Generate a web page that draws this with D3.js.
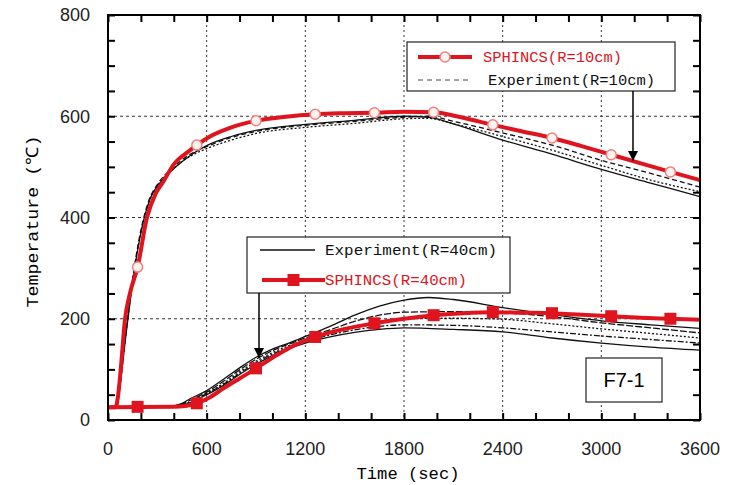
<!DOCTYPE html>
<html>
<head>
<meta charset="utf-8">
<script src="https://cdn.jsdelivr.net/npm/d3@7"></script>
<style>
  body { margin: 0; background: #fff; }
  svg { display: block; }
</style>
</head>
<body>
<div id="chart"></div>
<script>
// tick values
var timeTicks = [0, 600, 1200, 1800, 2400, 3000, 3600]
var tempTicks = [0, 200, 400, 600, 800]

// SPHINCS R=10cm (red, circle markers)
var sphincs10 = [[0, 25], [45, 25], [60, 45], [80, 110], [103, 198], [134, 251], [180, 302], [237, 400],
  [290, 447], [335, 470], [400, 505], [500, 533], [540, 543], [620, 560], [742, 577], [900, 591],
  [1080, 599], [1260, 604], [1440, 606], [1620, 607], [1800, 609], [1980, 608], [2160, 597],
  [2340, 583], [2520, 570], [2700, 557], [2880, 541], [3060, 524], [3240, 507], [3420, 490], [3600, 474]]
var sphincs10Marks = [[180, 302], [540, 543], [900, 591], [1260, 604], [1620, 607], [1980, 608],
  [2340, 583], [2700, 557], [3060, 524], [3420, 490]]

// Experiment R=10cm (black, several thermocouples)
var exp10a = [[0, 25], [50, 25], [65, 50], [100, 150], [150, 280], [200, 375], [250, 435], [300, 465],
  [400, 500], [500, 525], [600, 540], [750, 558], [900, 570], [1200, 582], [1500, 590], [1800, 598],
  [1950, 600], [2100, 590], [2400, 567], [2700, 543], [3000, 513], [3300, 487], [3600, 460]]
var exp10b = [[0, 25], [50, 25], [65, 48], [100, 145], [150, 275], [200, 370], [250, 430], [300, 462],
  [400, 497], [500, 521], [600, 536], [750, 553], [900, 566], [1200, 578], [1500, 586], [1800, 595],
  [1950, 596], [2100, 585], [2400, 560], [2700, 533], [3000, 503], [3300, 474], [3600, 451]]
var exp10c = [[0, 25], [55, 25], [70, 60], [110, 170], [160, 295], [210, 385], [260, 440], [320, 470],
  [420, 502], [520, 527], [600, 542], [750, 560], [900, 572], [1200, 584], [1500, 592], [1800, 600],
  [1950, 598], [2100, 585], [2400, 553], [2700, 525], [3000, 495], [3300, 468], [3600, 441]]

// SPHINCS R=40cm (red, square markers)
var sphincs40 = [[0, 25], [400, 26], [540, 33], [620, 45], [700, 62], [800, 82], [900, 102], [1000, 123],
  [1100, 142], [1260, 164], [1440, 180], [1620, 191], [1800, 200], [1980, 207], [2160, 211],
  [2340, 213], [2520, 212], [2700, 211], [2880, 208], [3060, 205], [3240, 202], [3420, 200], [3600, 198]]
var sphincs40Marks = [[180, 26], [540, 33], [900, 102], [1260, 164], [1620, 191], [1980, 207],
  [2340, 213], [2700, 211], [3060, 205], [3420, 200]]

// Experiment R=40cm (black)
var exp40a = [[0, 25], [380, 27], [450, 33], [500, 42], [600, 58], [700, 80], [800, 103], [900, 124],
  [1000, 140], [1100, 152], [1200, 165], [1350, 185], [1500, 207], [1650, 225], [1800, 237],
  [1950, 242], [2100, 238], [2400, 222], [2700, 208], [3000, 196], [3300, 188], [3600, 181]]
var exp40b = [[0, 25], [380, 27], [460, 33], [520, 42], [600, 55], [700, 76], [800, 99], [900, 120],
  [1000, 137], [1100, 150], [1200, 162], [1350, 178], [1500, 195], [1650, 207], [1800, 213],
  [2100, 214], [2400, 212], [2700, 204], [3000, 192], [3300, 182], [3600, 172]]
var exp40c = [[0, 25], [400, 27], [480, 33], [540, 42], [600, 52], [700, 72], [800, 95], [900, 116],
  [1000, 133], [1100, 147], [1200, 158], [1350, 172], [1500, 185], [1650, 195], [1800, 200],
  [2100, 201], [2400, 199], [2700, 190], [3000, 180], [3300, 171], [3600, 162]]
var exp40d = [[0, 25], [400, 27], [480, 33], [540, 42], [600, 52], [700, 70], [800, 92], [900, 113],
  [1000, 130], [1100, 144], [1200, 155], [1350, 168], [1500, 178], [1650, 185], [1800, 188],
  [2100, 187], [2400, 182], [2700, 174], [3000, 166], [3300, 159], [3600, 152]]
var exp40e = [[0, 25], [400, 27], [490, 33], [550, 42], [600, 50], [700, 68], [800, 90], [900, 110],
  [1000, 127], [1100, 141], [1200, 152], [1350, 164], [1500, 173], [1650, 179], [1800, 182],
  [2100, 179], [2400, 174], [2700, 162], [3000, 152], [3300, 144], [3600, 138]]

var margin = { top: 15, left: 108, right: 33, bottom: 65 }
var width = 733 - margin.left - margin.right
var height = 485 - margin.top - margin.bottom

var red = '#e0141e'
var labelFont = 'Liberation Sans, Arial, sans-serif'
var textFont = 'Liberation Mono, DejaVu Sans Mono, monospace'

var svg = d3
  .select('#chart')
  .append('svg')
  .attr('width', 733)
  .attr('height', 485)
  .append('g')
  .attr('transform', 'translate(' + margin.left + ',' + margin.top + ')')

var xScale = d3.scaleLinear().domain([0, 3600]).range([0, width])
var yScale = d3.scaleLinear().domain([0, 800]).range([height, 0])

var defs = d3.select('svg').append('defs')
defs
  .append('clipPath')
  .attr('id', 'clip')
  .append('rect')
  .attr('width', width)
  .attr('height', height)
defs
  .append('marker')
  .attr('id', 'arrow')
  .attr('viewBox', '0 0 10 10')
  .attr('refX', 10)
  .attr('refY', 5)
  .attr('markerWidth', 10)
  .attr('markerHeight', 10)
  .attr('markerUnits', 'userSpaceOnUse')
  .attr('orient', 'auto')
  .append('path')
  .attr('d', 'M0,0 L10,5 L0,10 Z')
  .attr('fill', 'black')

// grid
svg
  .selectAll('.vgrid')
  .data(timeTicks.slice(1, -1))
  .enter()
  .append('line')
  .attr('class', 'vgrid')
  .attr('x1', d => xScale(d))
  .attr('x2', d => xScale(d))
  .attr('y1', 0)
  .attr('y2', height)
  .attr('stroke', '#333')
  .attr('stroke-width', 1)
  .attr('stroke-dasharray', '2,3')

svg
  .selectAll('.hgrid')
  .data(tempTicks.slice(1, -1))
  .enter()
  .append('line')
  .attr('class', 'hgrid')
  .attr('x1', 0)
  .attr('x2', width)
  .attr('y1', d => yScale(d))
  .attr('y2', d => yScale(d))
  .attr('stroke', '#333')
  .attr('stroke-width', 1)
  .attr('stroke-dasharray', '3,3')

// ticks (inward, all four sides)
var xMinor = d3.range(0, 3601, 200)
var yMinor = d3.range(0, 801, 50)

svg.append('g')
  .attr('transform', 'translate(0,' + height + ')')
  .call(d3.axisBottom(xScale).tickValues(xMinor).tickSize(-7).tickFormat(''))
svg.append('g')
  .call(d3.axisTop(xScale).tickValues(xMinor).tickSize(-7).tickFormat(''))
svg.append('g')
  .call(d3.axisLeft(yScale).tickValues(yMinor).tickSize(-7).tickFormat(''))
svg.append('g')
  .attr('transform', 'translate(' + width + ',0)')
  .call(d3.axisRight(yScale).tickValues(yMinor).tickSize(-7).tickFormat(''))
svg.selectAll('.domain').remove()
svg.selectAll('.tick line').attr('stroke', 'black').attr('stroke-width', 2)

// lines
var line = d3
  .line()
  .x(d => xScale(d[0]))
  .y(d => yScale(d[1]))
  .curve(d3.curveMonotoneX)

var plot = svg.append('g').attr('clip-path', 'url(#clip)')

var expLines = [
  { data: exp10a, dash: '5,3' },
  { data: exp10b, dash: '2,2' },
  { data: exp10c, dash: null },
  { data: exp40a, dash: null },
  { data: exp40b, dash: '7,2' },
  { data: exp40c, dash: '2,2' },
  { data: exp40d, dash: '6,2,2,2' },
  { data: exp40e, dash: null }
]

plot
  .selectAll('.exp')
  .data(expLines)
  .enter()
  .append('path')
  .attr('class', 'exp')
  .attr('d', d => line(d.data))
  .attr('fill', 'none')
  .attr('stroke', '#111')
  .attr('stroke-width', 1.3)
  .attr('stroke-dasharray', d => d.dash)

plot
  .append('path')
  .datum(sphincs10)
  .attr('d', line)
  .attr('fill', 'none')
  .attr('stroke', red)
  .attr('stroke-width', 4)

plot
  .append('path')
  .datum(sphincs40)
  .attr('d', line)
  .attr('fill', 'none')
  .attr('stroke', red)
  .attr('stroke-width', 4)

plot
  .selectAll('.mark10')
  .data(sphincs10Marks)
  .enter()
  .append('circle')
  .attr('class', 'mark10')
  .attr('cx', d => xScale(d[0]))
  .attr('cy', d => yScale(d[1]))
  .attr('r', 5)
  .attr('fill', '#fff3f0')
  .attr('stroke', '#f08080')
  .attr('stroke-width', 1.5)

plot
  .selectAll('.mark40')
  .data(sphincs40Marks)
  .enter()
  .append('rect')
  .attr('class', 'mark40')
  .attr('x', d => xScale(d[0]) - 6)
  .attr('y', d => yScale(d[1]) - 6)
  .attr('width', 12)
  .attr('height', 12)
  .attr('fill', red)

// frame
svg
  .append('rect')
  .attr('width', width)
  .attr('height', height)
  .attr('fill', 'none')
  .attr('stroke', 'black')
  .attr('stroke-width', 2)

// tick labels
svg
  .selectAll('.xlabel')
  .data(timeTicks)
  .enter()
  .append('text')
  .attr('class', 'xlabel')
  .attr('x', d => xScale(d))
  .attr('y', height + 35)
  .attr('text-anchor', 'middle')
  .attr('font-family', labelFont)
  .attr('font-size', 18)
  .attr('fill', '#222')
  .text(d => d)

svg
  .selectAll('.ylabel')
  .data(tempTicks)
  .enter()
  .append('text')
  .attr('class', 'ylabel')
  .attr('x', -18)
  .attr('y', d => yScale(d))
  .attr('dy', '0.35em')
  .attr('text-anchor', 'end')
  .attr('font-family', labelFont)
  .attr('font-size', 18)
  .attr('fill', '#222')
  .text(d => d)

// axis titles
svg
  .append('text')
  .attr('x', xScale(1800) + 4)
  .attr('y', height + 59)
  .attr('text-anchor', 'middle')
  .attr('font-family', textFont)
  .attr('font-size', 17)
  .attr('textLength', 103)
  .attr('lengthAdjust', 'spacingAndGlyphs')
  .text('Time (sec)')

svg
  .append('text')
  .attr('transform', 'translate(-70,' + (yScale(400) + 4) + ') rotate(-90)')
  .attr('text-anchor', 'middle')
  .attr('font-family', textFont)
  .attr('font-size', 17)
  .attr('textLength', 172)
  .attr('lengthAdjust', 'spacingAndGlyphs')
  .text('Temperature (℃)')

// legends
function legend(x, y, w, h, rows) {
  var g = svg.append('g').attr('transform', 'translate(' + x + ',' + y + ')')
  g.append('rect')
    .attr('width', w)
    .attr('height', h)
    .attr('fill', 'white')
    .attr('stroke', '#222')
    .attr('stroke-width', 1.2)
  rows.forEach(function(r) {
    g.append('line')
      .attr('x1', r.x1)
      .attr('x2', r.x2)
      .attr('y1', r.y)
      .attr('y2', r.y)
      .attr('stroke', r.color)
      .attr('stroke-width', r.sw)
      .attr('stroke-dasharray', r.dash)
    if (r.marker === 'circle') {
      g.append('circle')
        .attr('cx', (r.x1 + r.x2) / 2)
        .attr('cy', r.y)
        .attr('r', 5)
        .attr('fill', '#fff3f0')
        .attr('stroke', '#f08080')
        .attr('stroke-width', 1.5)
    }
    if (r.marker === 'square') {
      g.append('rect')
        .attr('x', (r.x1 + r.x2) / 2 - 6)
        .attr('y', r.y - 6)
        .attr('width', 12)
        .attr('height', 12)
        .attr('fill', red)
    }
    g.append('text')
      .attr('x', r.tx)
      .attr('y', r.y)
      .attr('dy', '0.35em')
      .attr('font-family', textFont)
      .attr('font-size', 15)
      .attr('fill', r.tcolor)
      .attr('textLength', r.tw)
      .attr('lengthAdjust', 'spacingAndGlyphs')
      .text(r.label)
  })
}

legend(299, 27, 268, 49, [
  { x1: 11, x2: 65, y: 15, color: red, sw: 4, dash: null, marker: 'circle', tx: 76, tw: 139, tcolor: red, label: 'SPHINCS(R=10cm)' },
  { x1: 11, x2: 62, y: 38, color: '#444', sw: 1, dash: '5,4', marker: null, tx: 81, tw: 167, tcolor: '#111', label: 'Experiment(R=10cm)' }
])

legend(139, 222, 263, 56, [
  { x1: 13, x2: 68, y: 13, color: '#111', sw: 1.3, dash: null, marker: null, tx: 78, tw: 172, tcolor: '#111', label: 'Experiment(R=40cm)' },
  { x1: 15, x2: 78, y: 43, color: red, sw: 4, dash: null, marker: 'square', tx: 78, tw: 142, tcolor: red, label: 'SPHINCS(R=40cm)' }
])

// arrows from legends
svg
  .append('line')
  .attr('x1', 525)
  .attr('x2', 525)
  .attr('y1', 76)
  .attr('y2', 146)
  .attr('stroke', 'black')
  .attr('stroke-width', 1.5)
  .attr('marker-end', 'url(#arrow)')

svg
  .append('line')
  .attr('x1', 151)
  .attr('x2', 151)
  .attr('y1', 278)
  .attr('y2', 343)
  .attr('stroke', 'black')
  .attr('stroke-width', 1.5)
  .attr('marker-end', 'url(#arrow)')

// case label
svg
  .append('rect')
  .attr('x', 478)
  .attr('y', 343)
  .attr('width', 76)
  .attr('height', 44)
  .attr('fill', 'white')
  .attr('stroke', '#222')
  .attr('stroke-width', 1.2)
svg
  .append('text')
  .attr('x', 516)
  .attr('y', 365)
  .attr('dy', '0.36em')
  .attr('text-anchor', 'middle')
  .attr('font-family', 'Liberation Sans, Arial, sans-serif')
  .attr('font-size', 20)
  .text('F7-1')
</script>
</body>
</html>
